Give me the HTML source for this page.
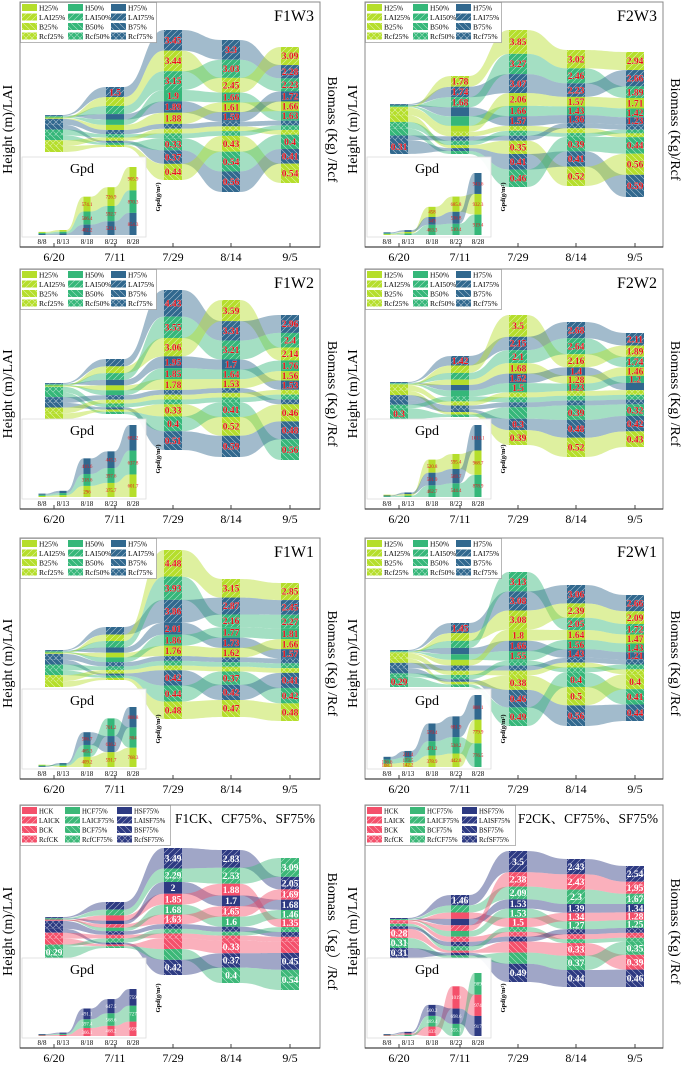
<!DOCTYPE html>
<html><head><meta charset="utf-8"><style>
html,body{margin:0;padding:0;background:#fff;}
svg{display:block;font-family:"Liberation Serif","Noto Serif CJK SC",serif;}
</style></head><body>
<svg id="chart" width="685" height="1065" viewBox="0 0 685 1065" xmlns="http://www.w3.org/2000/svg">
<rect width="685" height="1065" fill="#fff"/>
<defs id="defs"></defs>
</svg>
<script>
// ---------- data: main sankey columns (key, value, show-label) ----------
const dates = ['6/20','7/11','7/29','8/14','9/5'];
const gpdDates = ['8/8','8/13','8/18','8/23','8/28'];

const F1W3_cols = [
 [['L75',.1,0],['H75',.1,0],['L50',.1,0],['H50',.1,0],['L25',.1,0],['H25',.1,0],['R75',.15,0],['B75',.12,0],['R50',.15,0],['B50',.12,0],['R25',.15,0],['B25',.15,0]],
 [['L75',1.5,1],['L25',1.3,0],['L50',1.2,0],['H75',.8,0],['H50',.8,0],['H25',.75,0],['R75',.1,0],['R50',.08,0],['R25',.08,0],['B75',.05,0],['B50',.05,0],['B25',.05,0]],
 [['L75',3.45,1],['L25',3.44,1],['L50',3.15,1],['H50',1.9,1],['H75',1.89,1],['H25',1.88,1],['R75',.13,0],['R25',.13,0],['R50',.13,0],['B50',.33,1],['B75',.37,1],['B25',.44,1]],
 [['L75',3.3,1],['L50',3.03,1],['L25',2.45,1],['H50',1.66,1],['H25',1.61,1],['H75',1.59,1],['R75',.13,0],['R25',.13,0],['R50',.13,0],['B25',.43,1],['B50',.54,1],['B75',.56,1]],
 [['L25',3.09,1],['L75',2.28,1],['L50',2.23,1],['H75',1.72,1],['H25',1.66,1],['H50',1.63,1],['R75',.13,0],['R50',.13,0],['R25',.13,0],['B50',.4,1],['B75',.41,1],['B25',.54,1]]
];
const F1W3_gpd = [
 [['75',40,0],['50',40,0],['25',40,0]],
 [['75',60,0],['50',65,0],['25',68,0]],
 [['75',402.2,1],['50',506.4,1],['25',574.1,1]],
 [['75',529.1,1],['50',592.7,1],['25',726.9,1]],
 [['75',854.3,1],['50',870.3,1],['25',905.9,1]]
];
const F2W3_cols = [
 [['L75',.1,0],['H75',.1,0],['L50',.1,0],['H50',.1,0],['L25',.1,0],['H25',.1,0],['R25',.15,0],['B25',.15,0],['R50',.15,0],['B50',.15,0],['R75',.1,0],['B75',.31,1]],
 [['L25',1.78,1],['L75',1.74,1],['L50',1.68,1],['H75',1.5,0],['H50',1.6,0],['H25',1.0,0],['R25',.12,0],['R75',.12,0],['R50',.12,0],['B25',.08,0],['B75',.08,0],['B50',.08,0]],
 [['L25',3.85,1],['L50',3.27,1],['L75',3.07,1],['H25',2.06,1],['H50',1.66,1],['H75',1.57,1],['R25',.13,0],['R50',.13,0],['R75',.13,0],['B25',.35,1],['B75',.41,1],['B50',.46,1]],
 [['L25',3.02,1],['L50',2.46,1],['L75',2.23,1],['H25',1.57,1],['H50',1.43,1],['H75',1.36,1],['R75',.13,0],['R25',.13,0],['R50',.1,0],['B50',.39,1],['B75',.41,1],['B25',.52,1]],
 [['L25',2.94,1],['L75',2.66,1],['L50',1.89,1],['H25',1.71,1],['H50',1.42,1],['H75',1.23,1],['R75',.13,0],['R50',.1,0],['R25',.1,0],['B50',.44,1],['B25',.56,1],['B75',.59,1]]
];
const F2W3_gpd = [
 [['25',40,0],['50',40,0],['75',40,0]],
 [['50',70,0],['25',70,0],['75',80,0]],
 [['50',463.3,1],['75',349,1],['25',458,1]],
 [['50',510.4,1],['75',536.8,1],['25',685.8,1]],
 [['50',919.4,1],['25',932.3,1],['75',943.6,1]]
];
const F1W2_cols = [
 [['L75',.1,0],['H75',.1,0],['L50',.1,0],['H50',.1,0],['L25',.1,0],['H25',.1,0],['R50',.15,0],['B50',.12,0],['R75',.15,0],['B75',.12,0],['R25',.15,0],['B25',.15,0]],
 [['L75',1.2,0],['L25',1.1,0],['L50',1.1,0],['H75',.9,0],['H25',.8,0],['H50',.8,0],['R75',.12,0],['R25',.1,0],['R50',.1,0],['B75',.06,0],['B25',.06,0],['B50',.06,0]],
 [['L75',4.43,1],['L50',3.55,1],['L25',3.06,1],['H75',1.95,1],['H50',1.85,1],['H25',1.78,1],['R75',.13,0],['R25',.13,0],['R50',.13,0],['B25',.33,1],['B50',.4,1],['B75',.51,1]],
 [['L25',3.59,1],['L75',3.31,1],['L50',3.21,1],['H75',1.7,1],['H50',1.64,1],['H25',1.53,1],['R75',.13,0],['R25',.13,0],['R50',.13,0],['B50',.41,1],['B25',.52,1],['B75',.59,1]],
 [['L75',2.96,1],['L50',2.4,1],['L25',2.14,1],['H50',1.76,1],['H25',1.56,1],['H75',1.53,1],['R25',.13,0],['R50',.13,0],['R75',.13,0],['B25',.46,1],['B75',.48,1],['B50',.56,1]]
];
const F1W2_gpd = [
 [['25',30,0],['50',30,0],['75',30,0]],
 [['25',50,0],['50',55,0],['75',60,0]],
 [['25',296,1],['50',318.6,1],['75',416.6,1]],
 [['25',375.7,1],['50',397.6,1],['75',445.3,1]],
 [['25',601.7,1],['50',637.8,1],['75',682.2,1]]
];
const F2W2_cols = [
 [['L75',.1,0],['H75',.1,0],['L50',.1,0],['H50',.1,0],['L25',.1,0],['H25',.1,0],['R25',.15,0],['B25',.12,0],['R75',.15,0],['B75',.12,0],['R50',.1,0],['B50',.3,1]],
 [['L75',1.42,1],['L25',1.1,0],['L50',1.0,0],['H25',.8,0],['H75',.8,0],['H50',.9,0],['R50',.12,0],['R25',.1,0],['R75',.1,0],['B75',.06,0],['B25',.06,0],['B50',.06,0]],
 [['L25',3.5,1],['L75',2.15,1],['L50',2.1,1],['H25',1.68,1],['H75',1.52,1],['H50',1.5,1],['R25',.13,0],['R50',.13,0],['R75',.13,0],['B50',.3,0],['B75',.3,1],['B25',.39,1]],
 [['L75',2.68,1],['L50',2.64,1],['L25',2.16,1],['H75',1.4,1],['H25',1.28,1],['H50',1.23,1],['R25',.13,0],['R50',.13,0],['R75',.13,0],['B50',.39,1],['B75',.48,1],['B25',.52,1]],
 [['L75',2.11,1],['L25',1.89,1],['L50',1.74,1],['H25',1.46,1],['H50',1.2,1],['H75',1.2,0],['R25',.13,0],['R50',.13,0],['R75',.13,0],['B50',.32,1],['B75',.42,1],['B25',.43,1]]
];
const F2W2_gpd = [
 [['50',30,0],['75',30,0],['25',30,0]],
 [['50',55,0],['25',60,0],['75',65,0]],
 [['50',462.7,1],['75',501.9,1],['25',520.8,1]],
 [['50',544.4,1],['75',569.7,1],['25',595.4,1]],
 [['50',878.9,1],['25',968.7,1],['75',1013.1,1]]
];
const F1W1_cols = [
 [['L75',.1,0],['H75',.1,0],['L50',.1,0],['H50',.1,0],['L25',.1,0],['H25',.1,0],['R75',.15,0],['B75',.12,0],['R50',.15,0],['B50',.12,0],['R25',.15,0],['B25',.15,0]],
 [['L75',1.3,0],['L25',1.1,0],['L50',1.1,0],['H75',.9,0],['H25',.8,0],['H50',.8,0],['R75',.12,0],['R50',.1,0],['R25',.1,0],['B75',.06,0],['B50',.06,0],['B25',.06,0]],
 [['L25',4.48,1],['L50',3.93,1],['L75',3.86,1],['H75',2.01,1],['H50',1.86,1],['H25',1.76,1],['R75',.13,0],['R50',.13,0],['R25',.13,0],['B75',.42,1],['B50',.44,1],['B25',.48,1]],
 [['L25',3.15,1],['L75',2.87,1],['L50',2.16,1],['H50',1.77,1],['H75',1.73,1],['H25',1.62,1],['R75',.13,0],['R50',.13,0],['R25',.13,0],['B50',.37,1],['B75',.42,1],['B25',.47,1]],
 [['L25',2.85,1],['L75',2.45,1],['L50',2.27,1],['H50',1.81,1],['H25',1.66,1],['H75',1.57,1],['R75',.13,0],['R50',.13,0],['R25',.13,0],['B75',.41,1],['B50',.42,1],['B25',.48,1]]
];
const F1W1_gpd = [
 [['75',30,0],['50',30,0],['25',30,0]],
 [['25',50,0],['50',50,0],['75',55,0]],
 [['25',409.2,1],['50',465.3,1],['75',506.7,1]],
 [['25',591.7,1],['75',636.2,1],['50',701.2,1]],
 [['25',768.3,1],['50',804,1],['75',808.8,1]]
];
const F2W1_cols = [
 [['L75',.1,0],['H75',.1,0],['L50',.1,0],['H50',.1,0],['L25',.1,0],['H25',.1,0],['R25',.15,0],['B25',.12,0],['R75',.15,0],['B75',.15,0],['R50',.1,0],['B50',.29,1]],
 [['L75',1.45,1],['L25',1.1,0],['L50',1.0,0],['H75',.9,0],['H50',.8,0],['H25',.8,0],['R75',.12,0],['R25',.1,0],['R50',.1,0],['B75',.06,0],['B25',.06,0],['B50',.06,0]],
 [['L50',3.13,1],['L75',3.08,1],['L25',3.08,1],['H25',1.8,1],['H75',1.66,1],['H50',1.55,1],['R50',.13,0],['R75',.13,0],['R25',.13,0],['B25',.38,1],['B75',.46,1],['B50',.49,1]],
 [['L75',3.06,1],['L25',2.39,1],['L50',2.05,1],['H25',1.64,1],['H50',1.56,1],['H75',1.43,1],['R75',.13,0],['R25',.13,0],['R50',.13,0],['B50',.4,1],['B25',.5,1],['B75',.56,1]],
 [['L75',2.66,1],['L25',2.09,1],['L50',1.72,1],['H25',1.47,1],['H50',1.43,1],['H75',1.21,1],['R75',.13,0],['R50',.13,0],['R25',.13,0],['B25',.4,1],['B50',.41,1],['B75',.44,1]]
];
const F2W1_gpd = [
 [['25',108.3,1],['50',136.6,1],['75',90,0]],
 [['25',142.2,1],['50',173.5,1],['75',211.4,1]],
 [['25',378.9,1],['50',471.2,1],['75',579.4,1]],
 [['25',442.8,1],['50',538.2,1],['75',681.9,1]],
 [['50',776.5,1],['25',779.9,1],['75',808.1,1]]
];
const F1CK_cols = [
 [['L75',.1,0],['H75',.1,0],['L50',.1,0],['H50',.1,0],['L25',.1,0],['H25',.1,0],['R75',.2,0],['B75',.1,0],['R25',.15,0],['B25',.15,0],['R50',.05,0],['B50',.29,1]],
 [['L75',1.3,0],['L50',1.0,0],['H25',.9,0],['H75',.6,0],['L25',.6,0],['H50',.6,0],['R75',.1,0],['R25',.1,0],['R50',.12,0],['B75',.05,0],['B25',.05,0],['B50',.05,0]],
 [['L75',3.49,1],['L50',2.29,1],['H75',2,1],['H25',1.85,1],['H50',1.68,1],['L25',1.63,1],['R75',.13,0],['R50',.13,0],['R25',.13,0],['B25',.3,0],['B50',.3,0],['B75',.42,1]],
 [['L75',2.83,1],['L50',2.53,1],['H25',1.88,1],['H75',1.7,1],['L25',1.65,1],['H50',1.6,1],['R75',.13,0],['R50',.1,0],['R25',.13,0],['B25',.33,1],['B75',.37,1],['B50',.4,1]],
 [['L50',3.09,1],['L75',2.05,1],['L25',1.69,1],['H75',1.68,1],['H50',1.46,1],['H25',1.35,1],['R50',.13,0],['R75',.13,0],['R25',.13,0],['B25',.3,0],['B75',.45,1],['B50',.54,1]]
];
const F1CK_gpd = [
 [['25',30,0],['50',30,0],['75',30,0]],
 [['25',50,0],['50',50,0],['75',55,0]],
 [['25',366.1,1],['50',397.4,1],['75',491.1,1]],
 [['25',468.2,1],['50',568.6,1],['75',647.5,1]],
 [['25',658,1],['50',727,1],['75',759,1]]
];
const F2CK_cols = [
 [['L75',.1,0],['H75',.1,0],['L50',.1,0],['H50',.1,0],['L25',.1,0],['H25',.1,0],['R25',.08,0],['R50',.08,0],['R75',.08,0],['B25',.28,1],['B50',.31,1],['B75',.31,1]],
 [['L75',1.46,1],['L50',1.0,0],['H25',.9,0],['H75',.9,0],['L25',.8,0],['H50',.8,0],['R25',.12,0],['R75',.1,0],['R50',.1,0],['B25',.05,0],['B75',.06,0],['B50',.06,0]],
 [['L75',3.5,1],['L25',2.38,1],['L50',2.09,1],['H75',1.53,1],['H50',1.53,1],['H25',1.5,1],['R50',.13,0],['R25',.13,0],['R75',.13,0],['B25',.3,0],['B50',.3,0],['B75',.49,1]],
 [['L75',2.43,1],['L25',2.43,1],['L50',2.3,1],['H75',1.39,1],['H25',1.34,1],['H50',1.27,1],['R75',.13,0],['R25',.13,0],['R50',.1,0],['B25',.33,1],['B50',.37,1],['B75',.44,1]],
 [['L75',2.54,1],['L25',1.95,1],['L50',1.67,1],['H75',1.34,1],['H25',1.28,1],['H50',1.25,1],['R75',.13,0],['R25',.13,0],['R50',.1,0],['B50',.35,1],['B25',.39,1],['B75',.46,1]]
];
const F2CK_gpd = [
 [['25',30,0],['50',30,0],['75',30,0]],
 [['50',60,0],['25',60,0],['75',70,0]],
 [['25',433,1],['50',489.4,1],['75',500.2,1]],
 [['50',555.1,1],['75',698.6,1],['25',1019,1]],
 [['75',917,1],['25',974,1],['50',989,1]]
];

// ---------- layout ----------
const NS = 'http://www.w3.org/2000/svg';
const svg = document.getElementById('chart');
const defs = document.getElementById('defs');
const PAL = {
  V: {'25':'#b5de2b','50':'#35b779','75':'#31688e'},
  C: {'25':'#f4506b','50':'#3cb878','75':'#2d3a82'}
};
const DX = [34,95,153,211,270];
const GX = [22,43,67,91,113];

function el(tag, attrs, parent){
  const e = document.createElementNS(NS, tag);
  for (const k in attrs) e.setAttribute(k, attrs[k]);
  parent.appendChild(e);
  return e;
}

for (const pal of ['V','C']) {
  for (const lvl of ['25','50','75']) {
    for (const t of ['L','B','R']) {
      const p = el('pattern', {id: pal+lvl+t, patternUnits:'userSpaceOnUse', width:6, height:6}, defs);
      el('rect', {width:6, height:6, fill:PAL[pal][lvl]}, p);
      let d = '';
      if (t==='L' || t==='R') d += 'M0,6 L6,0 M-1,1 L1,-1 M5,7 L7,5 ';
      if (t==='B' || t==='R') d += 'M0,0 L6,6 M-1,5 L1,7 M5,-1 L7,1';
      el('path', {d:d, stroke:'#fff', 'stroke-width':0.6, 'stroke-opacity':0.6, fill:'none'}, p);
    }
  }
}
function fillOf(pal, key){
  const t = key[0], lvl = key.slice(1);
  return t==='H' ? PAL[pal][lvl] : 'url(#'+pal+lvl+t+')';
}

const panels = [
 {id:'f1w3', x:20,  y:2,   H:245, W:300, pal:'V', title:'F1W3', cols:F1W3_cols, gpd:F1W3_gpd, gpdH:68,
  spans:[[113,150],[85,145],[28,178],[38,190],[45,181]], right:'Biomass (Kg) /Rcf', lab:'#e8141c'},
 {id:'f2w3', x:365, y:2,   H:245, W:298, pal:'V', title:'F2W3', cols:F2W3_cols, gpd:F2W3_gpd, gpdH:62,
  spans:[[102,152],[74,152],[28,185],[48,184],[50,195]], right:'Biomass (Kg)/Rcf', lab:'#e8141c'},
 {id:'f1w2', x:20,  y:269, H:240, W:300, pal:'V', title:'F1W2', cols:F1W2_cols, gpd:F1W2_gpd, gpdH:72,
  spans:[[114,150],[90,145],[21,181],[31,188],[46,191]], right:'Biomass (Kg) /Rcf', lab:'#e8141c'},
 {id:'f2w2', x:365, y:269, H:240, W:298, pal:'V', title:'F2W2', cols:F2W2_cols, gpd:F2W2_gpd, gpdH:72,
  spans:[[113,150],[87,148],[46,176],[53,188],[64,178]], right:'Biomass (Kg) /Rcf', lab:'#e8141c'},
 {id:'f1w1', x:20,  y:538, H:241, W:300, pal:'V', title:'F1W1', cols:F1W1_cols, gpd:F1W1_gpd, gpdH:60,
  spans:[[112,149],[89,142],[12,181],[41,179],[45,183]], right:'Biomass (Kg) /Rcf', lab:'#e8141c'},
 {id:'f2w1', x:365, y:538, H:241, W:298, pal:'V', title:'F2W1', cols:F2W1_cols, gpd:F2W1_gpd, gpdH:72,
  spans:[[112,149],[85,149],[34,188],[47,188],[57,183]], right:'Biomass (Kg) /Rcf', lab:'#e8141c'},
 {id:'f1ck', x:20,  y:805, H:243, W:300, pal:'C', title:'F1CK、CF75%、SF75%', cols:F1CK_cols, gpd:F1CK_gpd, gpdH:47,
  spans:[[112,153],[97,143],[43,170],[45,178],[53,185]], right:'Biomass（Kg）/Rcf', lab:'#ffffff'},
 {id:'f2ck', x:365, y:805, H:243, W:298, pal:'C', title:'F2CK、CF75%、SF75%', cols:F2CK_cols, gpd:F2CK_gpd, gpdH:63,
  spans:[[113,153],[90,153],[46,177],[54,182],[61,182]], right:'Biomass (Kg) /Rcf', lab:'#ffffff'}
];

function band(x1,a1,a2,x2,b1,b2){
  const xm = (x1+x2)/2;
  return `M${x1},${a1} C${xm},${a1} ${xm},${b1} ${x2},${b1} L${x2},${b2} C${xm},${b2} ${xm},${a2} ${x1},${a2} Z`;
}

function drawPanel(p){
  const g = el('g', {transform:`translate(${p.x},${p.y})`}, svg);
  
  
  const H = p.H, W = p.W;

  const lay = p.cols.map((col, i) => {
    const top = p.spans[i][0], bot = p.spans[i][1];
    const raw = col.map(n => n[1] * ((n[0][0]==='H' || n[0][0]==='L') ? 6.2 : 38));
    const T = raw.reduce((a,b)=>a+b, 0);
    const s = (bot - top) / T;
    let y = top; const m = {};
    col.forEach((n, j) => { const h = raw[j]*s; m[n[0]] = {y0:y, y1:y+h, n:n}; y += h; });
    return m;
  });

  const fg = el('g', {}, g);
  
  
  for (let i = 0; i < 4; i++) {
    for (const k in lay[i]) {
      const a = lay[i][k], b = lay[i+1][k];
      if (!b) continue;
      const path = el('path', {d:band(DX[i]+9, a.y0, a.y1, DX[i+1]-9, b.y0, b.y1), fill:PAL[p.pal][k.slice(1)], 'fill-opacity':0.45}, fg);
      
      
    }
  }
  lay.forEach((m, i) => {
    for (const k in m) {
      const nd = m[k];
      const r = el('rect', {x:DX[i]-9, y:nd.y0, width:18, height:Math.max(0.5, nd.y1-nd.y0), fill:fillOf(p.pal, k)}, g);
      
      
      if (nd.n[2]) {
        const t = el('text', {x:DX[i], y:(nd.y0+nd.y1)/2+3.2, 'text-anchor':'middle', 'font-size':9.5, 'font-weight':'bold', fill:p.lab, stroke:p.lab==='#ffffff'?'none':'#fff', 'stroke-width':0.3, 'paint-order':'stroke'}, g);
        t.textContent = String(nd.n[1]);
        
        
      }
    }
  });

  const ig = el('g', {}, g);
  
  
  const ib = el('rect', {x:2, y:H-90, width:124, height:80, fill:'#fff', 'fill-opacity':0.93, stroke:'#ddd', 'stroke-width':0.8}, ig);
  
  
  const gt = el('text', {x:62, y:H-74, 'text-anchor':'middle', 'font-size':14}, ig);
  gt.textContent = 'Gpd';
  
  
  const maxT = Math.max(...p.gpd.map(c => c.reduce((a,n)=>a+n[1],0)));
  const k = p.gpdH / maxT;
  const base = H - 12;
  const glay = p.gpd.map(col => {
    let y = base; const m = {};
    col.forEach(n => { const h = n[1]*k; m[n[0]] = {y0:y-h, y1:y, n:n}; y -= h; });
    return m;
  });
  for (let i = 0; i < 4; i++) {
    for (const lv in glay[i]) {
      const a = glay[i][lv], b = glay[i+1][lv];
      const fp = el('path', {d:band(GX[i]+3.5, a.y0, a.y1, GX[i+1]-3.5, b.y0, b.y1), fill:PAL[p.pal][lv], 'fill-opacity':0.45}, ig);
      
      
    }
  }
  glay.forEach((m, i) => {
    for (const lv in m) {
      const nd = m[lv];
      const r = el('rect', {x:GX[i]-3.5, y:nd.y0, width:7, height:nd.y1-nd.y0, fill:PAL[p.pal][lv]}, ig);
      
      
      if (nd.n[2]) {
        const t = el('text', {x:GX[i], y:(nd.y0+nd.y1)/2+1.8, 'text-anchor':'middle', 'font-size':4.8, fill:p.lab}, ig);
        t.textContent = String(nd.n[1]);
        
        
      }
    }
    const dl = el('text', {x:GX[i], y:H-3, 'text-anchor':'middle', 'font-size':7}, ig);
    dl.textContent = gpdDates[i];
    
    
  });
  const gy = el('text', {transform:`translate(140,${H-50}) rotate(-90)`, 'text-anchor':'middle', 'font-size':6.5, 'font-weight':'bold'}, ig);
  gy.textContent = 'Gpd(g/m²)';
  
  

  const fr = el('rect', {x:0, y:0, width:W, height:H, fill:'none', stroke:'#888', 'stroke-width':1}, g);
  
  
  const ax = el('line', {x1:0, y1:H, x2:W, y2:H, stroke:'#444', 'stroke-width':1.2}, g);
  
  
  dates.forEach((d, i) => {
    const tk = el('line', {x1:DX[i], y1:H, x2:DX[i], y2:H-4, stroke:'#444'}, g);
    
    
    const tl = el('text', {x:DX[i], y:H+14, 'text-anchor':'middle', 'font-size':12}, g);
    tl.textContent = d;
    
    
  });
  const yl = el('text', {transform:`translate(-8,${H*0.52}) rotate(-90)`, 'text-anchor':'middle', 'font-size':14}, g);
  yl.textContent = 'Height (m)/LAI';
  
  
  const yr = el('text', {transform:`translate(${W+8},${H*0.52}) rotate(90)`, 'text-anchor':'middle', 'font-size':14}, g);
  yr.textContent = p.right;
  
  
  const ck = p.pal === 'C';
  const ti = ck
    ? el('text', {x:W-5, y:18, 'text-anchor':'end', 'font-size':13.5, textLength:140, lengthAdjust:'spacingAndGlyphs'}, g)
    : el('text', {x:W-6, y:19, 'text-anchor':'end', 'font-size':16}, g);
  ti.textContent = p.title;
  
  

  const lg = el('g', {}, g);
  
  
  el('rect', {x:0.5, y:0.5, width:ck?150:136, height:40, fill:'#fff', stroke:'#999', 'stroke-width':0.7}, lg);
  const colX = ck ? [2,45,97] : [2,48,91];
  const lvls = ['25','50','75'];
  const types = ['H','L','B','R'];
  const tnames = {H:'H', L:'LAI', B:'B', R:'Rcf'};
  const suf = ck ? {'25':'CK','50':'CF75%','75':'SF75%'} : {'25':'25%','50':'50%','75':'75%'};
  types.forEach((t, r) => {
    lvls.forEach((lv, c) => {
      const sw = el('rect', {x:colX[c], y:2+r*9.5, width:15, height:7, fill:fillOf(p.pal, t+lv)}, lg);
      
      
      const lt = el('text', {x:colX[c]+17, y:8.3+r*9.5, 'font-size':ck?6.8:7.5}, lg);
      lt.textContent = tnames[t] + suf[lv];
      
      
    });
  });
}
panels.forEach(drawPanel);
</script>
</body></html>
